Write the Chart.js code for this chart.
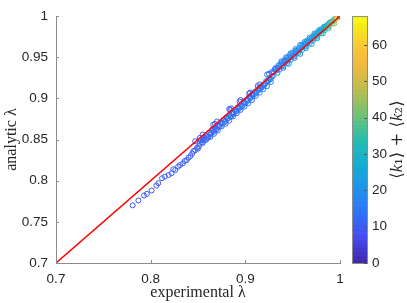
<!DOCTYPE html>
<html><head><meta charset="utf-8">
<script src="https://cdn.jsdelivr.net/npm/chart.js@4/dist/chart.umd.min.js"></script>
<style>html,body{margin:0;padding:0;background:#fff}#wrap{width:407px;height:303px;position:relative}</style>
</head><body><div id="wrap"><canvas id="c" width="407" height="303"></canvas></div>
<script>
// ---- axis ticks ----
const xTicks = [0.7, 0.8, 0.9, 1];
const yTicks = [0.7, 0.75, 0.8, 0.85, 0.9, 0.95, 1];
const cbTicks = [0, 10, 20, 30, 40, 50, 60];
const kMin = 0, kMax = 68;

// ---- reference line (analytic = experimental) ----
const refLineX = [0.7, 1];
const refLineY = [0.7, 1];

// ---- scatter data: experimental λ, analytic λ, <k1>+<k2> ----
const tailX = [0.781,0.787,0.793,0.796,0.801,0.806,0.808,0.812,0.815,0.819,0.822,0.824,0.826,0.829,0.831,0.834,0.836,0.838,0.840,0.842,0.844,0.845,0.847,0.849,0.850];
const tailY = [0.770,0.776,0.782,0.784,0.788,0.794,0.797,0.803,0.805,0.807,0.809,0.814,0.813,0.817,0.819,0.821,0.824,0.825,0.828,0.830,0.833,0.836,0.837,0.840,0.839];
const tailK = [9,10,9,10,9,10,9,11,10,9,10,11,9,10,11,10,9,11,10,10,11,9,10,11,10];

const midAX = [0.852,0.854,0.855,0.857,0.858,0.860,0.861,0.863,0.864,0.866,0.867,0.869,0.870,0.872,0.873,0.875,0.876,0.878,0.879,0.881,0.882,0.884,0.885,0.887,0.888,0.890,0.891,0.893,0.894,0.896,0.897,0.899,0.900,0.902,0.903,0.905,0.906,0.908,0.909,0.911,0.912,0.914,0.915,0.917,0.918,0.920,0.921,0.923,0.924,0.926,0.927,0.929];
const midAY = [0.845,0.846,0.849,0.849,0.851,0.853,0.853,0.856,0.858,0.859,0.861,0.862,0.863,0.866,0.866,0.869,0.870,0.871,0.873,0.875,0.876,0.878,0.878,0.881,0.882,0.884,0.885,0.887,0.889,0.890,0.891,0.894,0.894,0.897,0.898,0.900,0.901,0.903,0.905,0.906,0.908,0.910,0.911,0.913,0.914,0.916,0.918,0.920,0.921,0.923,0.924,0.927];
const midAK = [11,12,11,13,12,11,13,12,14,12,13,11,14,13,12,14,13,12,14,13,15,13,14,12,15,14,13,15,14,13,15,14,16,14,15,13,16,15,14,16,15,17,15,16,14,17,16,15,17,16,18,17];

const midBX = [0.853,0.856,0.859,0.862,0.865,0.868,0.871,0.874,0.877,0.880,0.883,0.886,0.889,0.892,0.895,0.898,0.901,0.904,0.907,0.910,0.913,0.916,0.919,0.922,0.925,0.928];
const midBY = [0.849,0.852,0.855,0.858,0.862,0.864,0.867,0.871,0.874,0.877,0.880,0.883,0.886,0.889,0.892,0.896,0.898,0.902,0.905,0.908,0.911,0.914,0.917,0.921,0.924,0.927];
const midBK = [12,11,13,12,14,12,13,14,13,15,14,13,15,14,16,15,14,16,15,17,16,15,17,16,18,17];

const midCX = [0.851,0.855,0.859,0.863,0.867,0.871,0.875,0.879,0.883,0.887,0.891,0.895,0.899,0.903,0.907,0.911,0.915,0.919,0.923,0.927];
const midCY = [0.842,0.846,0.850,0.853,0.857,0.861,0.866,0.869,0.873,0.878,0.882,0.886,0.890,0.894,0.898,0.903,0.907,0.911,0.915,0.920];
const midCK = [11,12,12,13,12,13,14,13,14,14,15,14,15,16,15,16,17,16,17,18];

const bumpX = [0.847,0.852,0.855,0.866,0.868,0.870,0.883,0.884,0.885,0.894,0.895,0.904,0.905,0.913,0.915,0.923,0.925,0.928,0.931];
const bumpY = [0.848,0.852,0.856,0.868,0.869,0.872,0.887,0.886,0.888,0.896,0.898,0.906,0.907,0.915,0.917,0.929,0.930,0.932,0.935];
const bumpK = [9,10,9,10,9,11,10,9,11,10,9,11,10,10,11,12,11,12,13];

const upFX = [0.938,0.943,0.948,0.953,0.958,0.963,0.968,0.973,0.978,0.983];
const upFY = [0.945,0.950,0.955,0.960,0.965,0.969,0.974,0.979,0.983,0.987];
const upFK = [15,16,17,17,18,19,20,21,22,24];

const upAX = [0.932,0.935,0.938,0.941,0.944,0.947,0.950,0.953,0.956,0.959,0.962,0.965,0.968,0.971,0.974,0.977,0.980,0.983,0.986,0.989,0.992,0.995];
const upAY = [0.937,0.940,0.943,0.946,0.949,0.953,0.955,0.958,0.961,0.964,0.967,0.970,0.972,0.975,0.978,0.981,0.984,0.986,0.989,0.992,0.994,0.997];
const upAK = [15,16,16,17,17,18,18,19,19,20,20,21,21,22,22,23,24,25,26,28,30,34];

const upDX = [0.931,0.934,0.937,0.940,0.943,0.946,0.949,0.952,0.955,0.958,0.961,0.964,0.967,0.970,0.973,0.976,0.979,0.982,0.985,0.988,0.991,0.994];
const upDY = [0.935,0.937,0.941,0.943,0.947,0.949,0.952,0.956,0.958,0.961,0.965,0.967,0.970,0.973,0.976,0.979,0.982,0.984,0.987,0.990,0.993,0.996];
const upDK = [15,16,16,17,17,18,18,19,19,20,21,21,22,22,23,24,25,26,28,30,33,37];

const upBX = [0.930,0.933,0.936,0.939,0.942,0.945,0.948,0.951,0.954,0.957,0.960,0.963,0.966,0.969,0.972,0.975,0.978,0.981,0.984,0.987,0.990,0.993,0.996];
const upBY = [0.932,0.934,0.938,0.940,0.944,0.946,0.950,0.952,0.956,0.958,0.962,0.964,0.968,0.970,0.973,0.976,0.980,0.982,0.985,0.988,0.991,0.994,0.997];
const upBK = [16,16,17,17,18,18,19,19,20,20,21,21,22,23,24,25,26,28,30,32,35,38,45];

const upEX = [0.936,0.940,0.944,0.948,0.952,0.956,0.960,0.964,0.968,0.972,0.976,0.980,0.984,0.988,0.992];
const upEY = [0.935,0.939,0.943,0.947,0.951,0.955,0.959,0.963,0.967,0.971,0.975,0.979,0.983,0.987,0.991];
const upEK = [17,18,18,19,20,20,21,22,23,25,27,29,33,38,42];

const upCX = [0.934,0.940,0.946,0.952,0.958,0.964,0.970,0.976,0.982,0.988,0.994];
const upCY = [0.931,0.937,0.942,0.949,0.954,0.961,0.966,0.973,0.979,0.985,0.991];
const upCK = [17,18,19,20,21,22,24,27,31,38,44];

const endX = [0.997,0.998,0.999,1.000,1.000];
const endY = [0.998,0.999,0.999,1.000,1.000];
const endK = [52,58,63,68,4];

// ---- colormap (parula approximation) ----
const parulaStops = [[0,62,38,168],[0.1,70,72,236],[0.2,50,112,250],[0.3,33,146,235],[0.4,20,173,210],[0.5,40,188,175],[0.6,110,194,120],[0.7,185,189,80],[0.8,240,186,62],[0.86,252,192,58],[0.93,246,220,35],[1,249,251,14]];
function parula(t){
  t = Math.max(0, Math.min(1, t));
  let i = 0;
  while (i < parulaStops.length - 2 && t > parulaStops[i + 1][0]) i++;
  const a = parulaStops[i], b = parulaStops[i + 1], u = (t - a[0]) / (b[0] - a[0]);
  return 'rgb(' + [1,2,3].map(j => Math.round(a[j] + (b[j] - a[j]) * u)).join(',') + ')';
}
const kColor = k => parula((k - kMin) / (kMax - kMin));

const groups = [[tailX,tailY,tailK],[midCX,midCY,midCK],[midAX,midAY,midAK],[midBX,midBY,midBK],[bumpX,bumpY,bumpK],[upFX,upFY,upFK],[upAX,upAY,upAK],[upDX,upDY,upDK],[upBX,upBY,upBK],[upEX,upEY,upEK],[upCX,upCY,upCK],[endX,endY,endK]];
const pts = [], cols = [];
groups.forEach(([gx, gy, gk]) => gx.forEach((x, i) => { pts.push({x: x, y: gy[i]}); cols.push(kColor(gk[i])); }));

const AXIS_COLOR = '#8c8c8c', TEXT_COLOR = '#262626';
const tickFont = {family: '"Liberation Sans", Arial, sans-serif', size: 13.5};
const fmt = v => String(+(+v).toFixed(2));

const decor = {
  id: 'decor',
  afterDraw(chart){
    const ctx = chart.ctx, ca = chart.chartArea, xs = chart.scales.x, ys = chart.scales.y, cb = chart.scales.cb;
    ctx.save();
    ctx.strokeStyle = AXIS_COLOR; ctx.lineWidth = 1;
    ctx.beginPath();
    xTicks.forEach(v => { const p = Math.round(xs.getPixelForValue(v)) + 0.5; ctx.moveTo(p, ca.bottom); ctx.lineTo(p, ca.bottom - 3); });
    yTicks.forEach(v => { const p = Math.round(ys.getPixelForValue(v)) + 0.5; ctx.moveTo(ca.left, p); ctx.lineTo(ca.left + 3, p); });
    ctx.stroke();
    // colorbar
    const x0 = ca.right + 12, w = 15;
    const yTop = cb.getPixelForValue(kMax), yBot = cb.getPixelForValue(kMin);
    const steps = 64;
    for (let i = 0; i < steps; i++) {
      const v0 = kMin + (kMax - kMin) * i / steps, v1 = kMin + (kMax - kMin) * (i + 1) / steps;
      const p0 = cb.getPixelForValue(v0), p1 = cb.getPixelForValue(v1);
      ctx.fillStyle = parula((i + 0.5) / steps);
      ctx.fillRect(x0, p1, w, p0 - p1 + 0.6);
    }
    ctx.strokeStyle = AXIS_COLOR;
    ctx.strokeRect(x0 + 0.5, yTop + 0.5, w, yBot - yTop);
    ctx.beginPath();
    cbTicks.forEach(v => { const p = Math.round(cb.getPixelForValue(v)) + 0.5; ctx.moveTo(x0 + w, p); ctx.lineTo(x0 + w - 3, p); });
    ctx.strokeStyle = '#555'; ctx.stroke();
    ctx.fillStyle = TEXT_COLOR;
    ctx.font = '13.5px "Liberation Sans", Arial, sans-serif';
    ctx.textAlign = 'left'; ctx.textBaseline = 'middle';
    cbTicks.forEach(v => ctx.fillText(String(v), x0 + w + 5, cb.getPixelForValue(v)));
    // colorbar title: ⟨k1⟩ + ⟨k2⟩
    const runs = [['⟨','n'],['k','i'],['₁','n'],['⟩ + ⟨','n'],['k','i'],['₂','n'],['⟩','n']];
    const fN = '16.5px "DejaVu Serif", "Liberation Serif", serif', fI = 'italic 17px "Liberation Serif", serif';
    let total = 0;
    runs.forEach(r => { ctx.font = r[1] === 'i' ? fI : fN; total += ctx.measureText(r[0]).width; });
    ctx.translate(398, (yTop + yBot) / 2);
    ctx.rotate(-Math.PI / 2);
    let cx = -total / 2;
    ctx.textBaseline = 'middle';
    runs.forEach(r => { ctx.font = r[1] === 'i' ? fI : fN; ctx.fillText(r[0], cx, 0); cx += ctx.measureText(r[0]).width; });
    ctx.restore();
  }
};

new Chart(document.getElementById('c'), {
  type: 'scatter',
  data: {
    datasets: [
      {type: 'line', data: refLineX.map((x, i) => ({x: x, y: refLineY[i]})), borderColor: '#ff0000', borderWidth: 1.5, pointRadius: 0, fill: false, order: 0},
      {data: pts, pointRadius: 2.5, pointBorderWidth: 1, pointBorderColor: cols, pointBackgroundColor: 'rgba(0,0,0,0)', order: 1}
    ]
  },
  options: {
    responsive: false, animation: false, devicePixelRatio: 1,
    layout: {padding: {top: 7, right: 67, left: 0, bottom: 0}},
    plugins: {legend: {display: false}, tooltip: {enabled: false}},
    scales: {
      x: {
        type: 'linear', min: 0.7, max: 1,
        afterFit: s => { s.height = 40; },
        afterBuildTicks: s => { s.ticks = xTicks.map(v => ({value: v})); },
        grid: {display: false, drawTicks: false},
        border: {display: true, color: AXIS_COLOR, width: 1},
        ticks: {padding: 8, font: tickFont, color: TEXT_COLOR, maxRotation: 0, callback: v => fmt(v)},
        title: {display: true, text: 'experimental λ', color: TEXT_COLOR, font: {family: '"Liberation Serif", "Times New Roman", serif', size: 16}, padding: {top: 0, bottom: 1}}
      },
      y: {
        type: 'linear', min: 0.7, max: 1,
        afterFit: s => { s.width = 56; },
        afterBuildTicks: s => { s.ticks = yTicks.map(v => ({value: v})); },
        grid: {display: false, drawTicks: false},
        border: {display: true, color: AXIS_COLOR, width: 1},
        ticks: {padding: 8, font: tickFont, color: TEXT_COLOR, callback: v => fmt(v)},
        title: {display: true, text: 'analytic λ', color: TEXT_COLOR, font: {family: '"Liberation Serif", "Times New Roman", serif', size: 16}, padding: {top: 2, bottom: 0}}
      },
      cb: {
        type: 'linear', axis: 'y', position: 'right', min: kMin, max: kMax, display: false
      }
    }
  },
  plugins: [decor]
});
</script></body></html>
